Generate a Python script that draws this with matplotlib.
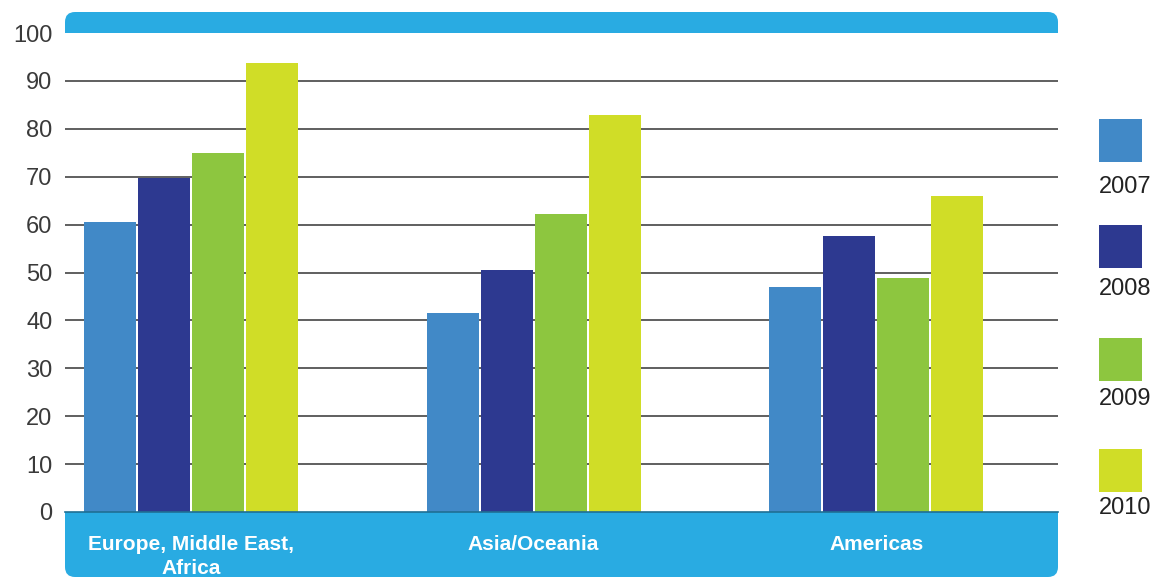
import matplotlib
matplotlib.use("Agg")
import matplotlib.pyplot as plt
from matplotlib.patches import FancyBboxPatch, Rectangle
from matplotlib.transforms import IdentityTransform
import numpy as np

plt.rcParams['font.family'] = ['Liberation Sans', 'DejaVu Sans']

regions = ["Europe, Middle East,\nAfrica", "Asia/Oceania", "Americas"]
years = ["2007", "2008", "2009", "2010"]
values = {
    "2007": [60.6, 41.5, 47.0],
    "2008": [69.7, 50.5, 57.6],
    "2009": [74.9, 62.2, 48.9],
    "2010": [93.7, 82.9, 66.0],
}
bar_colors = ["#4189c7", "#2d3990", "#8dc63f", "#d0dd27"]
band_blue = "#29abe2"
yticks = list(range(0, 101, 10))

W, H = 1154, 578
fig = plt.figure(figsize=(W / 100, H / 100), dpi=100)
ax = fig.add_axes([65 / W, (H - 512) / H, (1058 - 65) / W, (512 - 33) / H])

x = np.arange(len(regions))
width = 0.152
step = 0.1577
for i, yr in enumerate(years):
    ax.bar(x + (i - 1.5) * step, values[yr], width, color=bar_colors[i], zorder=3)

ax.set_xlim(-0.368, 2.531)
ax.set_ylim(0, 100)
ax.set_yticks(yticks)
ax.set_yticklabels([str(t) for t in yticks], fontsize=17, color="#3a3a3a")
ax.tick_params(axis="y", length=0, pad=9)
ax.set_xticks([])
for t in yticks[1:-1]:
    ax.axhline(t, color="#444444", lw=1.2, zorder=1)
for s in ax.spines.values():
    s.set_visible(False)

x0, x1 = 65, 1058
pix = IdentityTransform()  # display pixels, origin bottom-left

# top band (y 12..33 from top): rounded top corners only
fig.patches.append(FancyBboxPatch((x0, H - 33), x1 - x0, 21,
                                  boxstyle="round,pad=0,rounding_size=10",
                                  color=band_blue, transform=pix, lw=0))
fig.patches.append(Rectangle((x0, H - 33), x1 - x0, 11, color=band_blue,
                             transform=pix, lw=0))
# bottom band (y 512..578): rounded bottom corners only
fig.patches.append(FancyBboxPatch((x0, 1), x1 - x0, 65,
                                  boxstyle="round,pad=0,rounding_size=10",
                                  color=band_blue, transform=pix, lw=0))
fig.patches.append(Rectangle((x0, 30), x1 - x0, 36, color=band_blue,
                             transform=pix, lw=0))
fig.add_artist(plt.Line2D([x0 / W, x1 / W], [(H - 512) / H] * 2, color="#1f6f94",
                          lw=1.2, transform=fig.transFigure))

# category labels inside bottom band
tf = fig.transFigure
for xi, name in zip(x, regions):
    xf = tf.inverted().transform(ax.transData.transform((xi, 0)))[0]
    fig.text(xf, (H - 535) / H, name, ha="center", va="top", color="white",
             fontsize=15, fontweight="bold", linespacing=1.3, zorder=5)

# legend at right
sq_tops = [119, 225, 338, 449]
lbl_y = [187, 289, 399, 508]
for c, yr, st, ly in zip(bar_colors, years, sq_tops, lbl_y):
    fig.patches.append(Rectangle((1099, H - st - 43), 43, 43, color=c,
                                 transform=pix, lw=0))
    fig.text(1099 / W, (H - ly) / H, yr, ha="left", va="center", fontsize=17,
             color="#222222")

fig.savefig("out.png", dpi=100)
